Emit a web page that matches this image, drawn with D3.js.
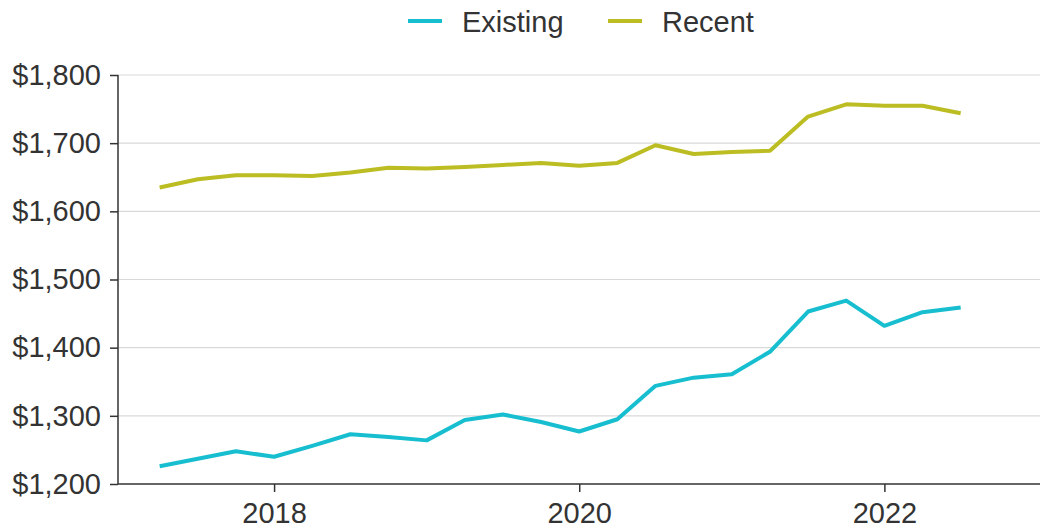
<!DOCTYPE html>
<html>
<head>
<meta charset="utf-8">
<script src="https://cdn.jsdelivr.net/npm/d3@7"></script>
<style>
  body { margin: 0; background: #fff; }
  svg { display: block; font-family: "Liberation Sans", Arial, sans-serif; }
  .axis text { fill: #333; font-size: 29px; }
  .axis path, .axis line { stroke: #333; stroke-width: 1.5; }
  .grid line { stroke: #d9d9d9; stroke-width: 1.2; }
  .legend text { fill: #333; font-size: 29px; }
</style>
</head>
<body>
<div id="chart"></div>
<script>
// Data (quarterly)
const quarters = [2017.25, 2017.5, 2017.75, 2018, 2018.25, 2018.5, 2018.75, 2019,
    2019.25, 2019.5, 2019.75, 2020, 2020.25, 2020.5, 2020.75, 2021,
    2021.25, 2021.5, 2021.75, 2022, 2022.25, 2022.5];
const existing = [1226, 1237, 1248, 1240, 1256, 1273, 1269, 1264,
    1294, 1302, 1291, 1277, 1295, 1344, 1356, 1361,
    1394, 1453, 1469, 1432, 1452, 1459];
const recent = [1635, 1647, 1653, 1653, 1652, 1657, 1664, 1663,
    1665, 1668, 1671, 1667, 1671, 1697, 1684, 1687,
    1689, 1739, 1757, 1755, 1755, 1744];
const seriesNames = ['Existing', 'Recent'];
const seriesColors = ['#17becf', '#bcbd22'];
const xTicks = [2018, 2020, 2022];
const yTicks = [1200, 1300, 1400, 1500, 1600, 1700, 1800];

// Layout
const width = 1042, height = 531;
const margin = { top: 75, right: 2, bottom: 47, left: 118 };

const svg = d3.select('#chart')
    .append('svg')
    .attr('width', width)
    .attr('height', height);

const x = d3.scaleLinear()
    .domain([2016.977, 2023.02])
    .range([margin.left, width - margin.right]);

const y = d3.scaleLinear()
    .domain([1200, 1800])
    .range([height - margin.bottom, margin.top]);

// Gridlines
svg.append('g')
    .attr('class', 'grid')
    .selectAll('line')
    .data(yTicks.filter(d => d > 1200))
    .join('line')
    .attr('x1', margin.left)
    .attr('x2', width - margin.right)
    .attr('y1', d => y(d))
    .attr('y2', d => y(d));

// Y axis
svg.append('g')
    .attr('class', 'axis')
    .attr('transform', `translate(${margin.left},0)`)
    .call(d3.axisLeft(y)
        .tickValues(yTicks)
        .tickSize(8)
        .tickPadding(9)
        .tickFormat(d => '$' + d3.format(',')(d)))
    .call(g => g.select('.domain').attr('d', `M0,${y(1800)}V${y(1200)}`));

// X axis
svg.append('g')
    .attr('class', 'axis')
    .attr('transform', `translate(0,${height - margin.bottom})`)
    .call(d3.axisBottom(x)
        .tickValues(xTicks)
        .tickSize(8)
        .tickPadding(10)
        .tickFormat(d3.format('d')))
    .call(g => g.select('.domain').attr('d', `M${margin.left},0H${width - margin.right}`));

// Lines
const line = d3.line()
    .x((d, i) => x(quarters[i]))
    .y(d => y(d));

[existing, recent].forEach((values, i) => {
    svg.append('path')
        .datum(values)
        .attr('fill', 'none')
        .attr('stroke', seriesColors[i])
        .attr('stroke-width', 4)
        .attr('stroke-linejoin', 'round')
        .attr('d', line);
});

// Legend
const legend = svg.append('g').attr('class', 'legend');
const legendX = [408, 608];
seriesNames.forEach((name, i) => {
    legend.append('line')
        .attr('x1', legendX[i])
        .attr('x2', legendX[i] + 34)
        .attr('y1', 21)
        .attr('y2', 21)
        .attr('stroke', seriesColors[i])
        .attr('stroke-width', 4);
    legend.append('text')
        .attr('x', legendX[i] + 54)
        .attr('y', 32)
        .text(name);
});
</script>
</body>
</html>
